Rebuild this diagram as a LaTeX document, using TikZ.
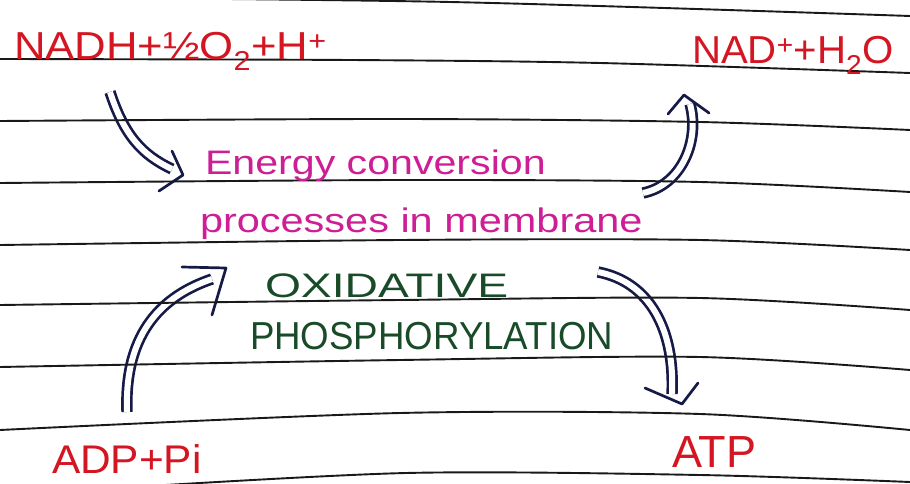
\documentclass[tikz,border=0pt]{standalone}
\usepackage{fontspec}
\setmainfont{Liberation Sans}
\usepackage{graphicx}
\definecolor{inkred}{RGB}{212,22,34}
\definecolor{inkmag}{RGB}{205,30,150}
\definecolor{inkgreen}{RGB}{25,75,40}
\definecolor{inknavy}{RGB}{22,26,70}
\definecolor{rule}{RGB}{25,25,25}
\tikzset{
  ruleline/.style={draw=rule, line width=1.9pt},
  dblshaft/.style={draw=inknavy, line width=2.7pt, double=white, double distance=6pt, line cap=butt},
  chevron/.style={draw=inknavy, line width=2.7pt, line cap=round, line join=round},
  txt/.style={anchor=base west, inner sep=0pt, outer sep=0pt},
}
\begin{document}
\begin{tikzpicture}[x=1pt,y=-1pt]
\useasboundingbox (0,0) rectangle (910,484);
\fill[white] (0,0) rectangle (910,484);
% arrow points
\coordinate (a1s) at (110,92);  \coordinate (a1e) at (172,169);
\coordinate (a1t) at (183,175); \coordinate (a1l) at (172,151); \coordinate (a1r) at (159,191);
\coordinate (a2s) at (643,193); \coordinate (a2e) at (690,104);
\coordinate (a2t) at (684,95);  \coordinate (a2l) at (668,114); \coordinate (a2r) at (709,113);
\coordinate (a3s) at (127,412); \coordinate (a3e) at (212,279);
\coordinate (a3t) at (226,268); \coordinate (a3l) at (182,267); \coordinate (a3r) at (212,315);
\coordinate (a4s) at (598,272); \coordinate (a4e) at (672,394);
\coordinate (a4t) at (682,404); \coordinate (a4l) at (645,388); \coordinate (a4r) at (698,383);
\draw[dblshaft] (a1s) .. controls (124,135) and (142,155) .. (a1e);
\draw[chevron] (a1l) -- (a1t) -- (a1r);
\draw[dblshaft] (a2s) .. controls (682,185) and (700,140) .. (a2e);
\draw[chevron] (a2l) -- (a2t) -- (a2r);
\draw[dblshaft] (a3s) .. controls (124,330) and (165,295) .. (a3e);
\draw[chevron] (a3l) -- (a3t) -- (a3r);
\draw[dblshaft] (a4s) .. controls (650,282) and (675,330) .. (a4e);
\draw[chevron] (a4l) -- (a4t) -- (a4r);
% ruled lines
\draw[ruleline] plot[smooth] coordinates {(0,-3) (450,2) (910,16)};
\draw[ruleline] plot[smooth] coordinates {(0,59) (350,60) (600,63) (910,73)};
\draw[ruleline] plot[smooth] coordinates {(0,121) (400,119) (700,122) (910,130)};
\draw[ruleline] plot[smooth] coordinates {(0,183) (400,180) (700,182) (910,192)};
\draw[ruleline] plot[smooth] coordinates {(0,245) (400,240) (700,240) (910,250)};
\draw[ruleline] plot[smooth] coordinates {(0,305) (400,300) (700,298) (910,310)};
\draw[ruleline] plot[smooth] coordinates {(0,367) (400,360) (700,357) (910,370)};
\draw[ruleline] plot[smooth] coordinates {(0,430) (400,413) (700,414) (910,430)};
\draw[ruleline] plot[smooth] coordinates {(100,489) (406,473) (700,475) (910,482)};
% text nodes
\node[txt, text=inkred, font=\fontsize{39}{39}\selectfont] (nadh) at (14,60) {\scalebox{1.12}[1]{NADH+½O\textsubscript{2}+H\textsuperscript{+}}};
\node[txt, text=inkred, font=\fontsize{39}{39}\selectfont] (nad) at (692,64) {\scalebox{1.03}[1]{NAD\textsuperscript{+}+H\textsubscript{2}O}};
\node[txt, text=inkmag, font=\fontsize{34}{34}\selectfont] (energy) at (205,175) {\scalebox{1.21}[1]{Energy conversion}};
\node[txt, text=inkmag, font=\fontsize{34}{34}\selectfont] (proc) at (200,232) {\scalebox{1.22}[1]{processes in membrane}};
\node[txt, text=inkgreen, font=\fontsize{34}{34}\selectfont] (oxi) at (265,297) {\scalebox{1.36}[1]{OXIDATIVE}};
\node[txt, text=inkgreen, font=\fontsize{39}{39}\selectfont] (phos) at (250,349) {\scalebox{0.94}[1]{PHOSPHORYLATION}};
\node[txt, text=inkred, font=\fontsize{40}{40}\selectfont] (adp) at (52,473) {\scalebox{1.06}[1]{ADP+Pi}};
\node[txt, text=inkred, font=\fontsize{45}{45}\selectfont] (atp) at (672,467) {\scalebox{1.0}[1]{ATP}};
\end{tikzpicture}
\end{document}
